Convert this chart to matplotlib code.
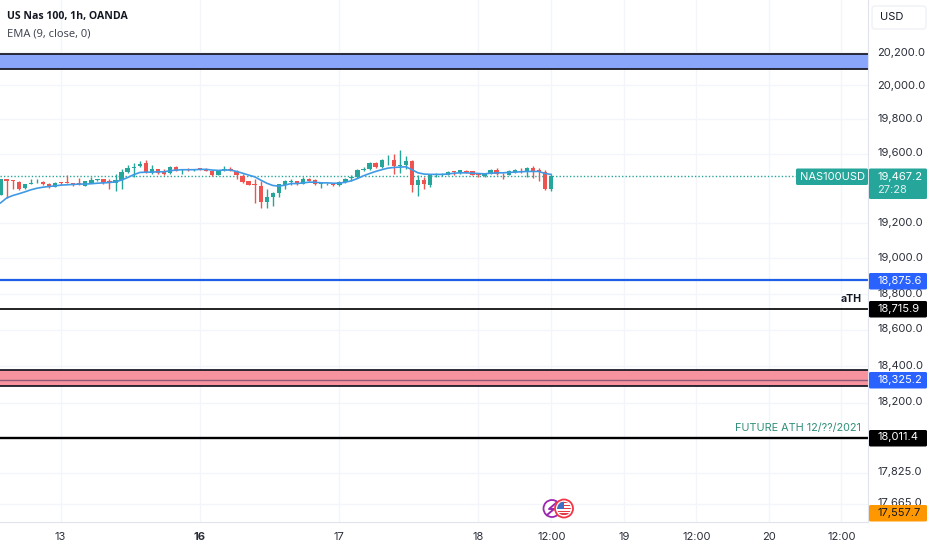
import matplotlib
matplotlib.use("Agg")
import matplotlib.pyplot as plt
from matplotlib.patches import Circle, FancyBboxPatch, Rectangle

opens = [19363, 19450, 19444, 19436, 19398, 19425, 19428, 19436, 19425, 19405, 19436, 19434, 19430, 19428, 19413, 19432,
         19444, 19450, 19440, 19428, 19446, 19492, 19515, 19525, 19546, 19488, 19509, 19496, 19486, 19521, 19504, 19511,
         19504, 19515, 19511, 19500, 19475, 19504, 19511, 19496, 19471, 19438, 19421, 19413, 19322, 19351, 19374, 19417,
         19434, 19438, 19426, 19452, 19444, 19423, 19423, 19426, 19415, 19434, 19459, 19463, 19504, 19508, 19544, 19521,
         19562, 19565, 19525, 19533, 19558, 19415, 19446, 19419, 19479, 19475, 19475, 19498, 19488, 19500, 19498, 19481,
         19469, 19481, 19504, 19484, 19477, 19494, 19500, 19494, 19517, 19502, 19490, 19392]
highs = [19453, 19453, 19444, 19440, 19425, 19453, 19455, 19438, 19428, 19434, 19436, 19473, 19430, 19457, 19442, 19461,
         19455, 19452, 19450, 19484, 19511, 19531, 19546, 19554, 19560, 19536, 19513, 19511, 19527, 19525, 19511, 19515,
         19513, 19517, 19515, 19504, 19504, 19527, 19523, 19502, 19479, 19442, 19450, 19440, 19392, 19376, 19425, 19444,
         19452, 19440, 19465, 19459, 19450, 19430, 19430, 19430, 19440, 19459, 19475, 19513, 19519, 19552, 19550, 19569,
         19591, 19600, 19618, 19585, 19562, 19473, 19465, 19481, 19488, 19488, 19498, 19498, 19504, 19506, 19500, 19488,
         19486, 19508, 19517, 19488, 19502, 19508, 19517, 19521, 19527, 19517, 19504, 19479]
lows = [19363, 19343, 19392, 19388, 19396, 19425, 19428, 19415, 19403, 19405, 19415, 19428, 19413, 19419, 19411, 19428,
        19438, 19425, 19396, 19382, 19396, 19488, 19465, 19519, 19486, 19482, 19484, 19475, 19484, 19496, 19481, 19498,
        19500, 19504, 19496, 19469, 19473, 19498, 19498, 19452, 19428, 19415, 19315, 19286, 19286, 19299, 19347, 19396,
        19417, 19419, 19425, 19440, 19419, 19401, 19417, 19411, 19411, 19432, 19440, 19459, 19498, 19504, 19517, 19515,
        19533, 19481, 19488, 19511, 19376, 19357, 19392, 19405, 19465, 19469, 19473, 19477, 19482, 19488, 19473, 19461,
        19461, 19479, 19475, 19453, 19473, 19488, 19488, 19465, 19459, 19440, 19388, 19386]
closes = [19450, 19438, 19438, 19392, 19425, 19432, 19432, 19421, 19405, 19432, 19430, 19428, 19426, 19425, 19438, 19444,
          19450, 19428, 19436, 19446, 19494, 19517, 19521, 19542, 19490, 19509, 19488, 19484, 19523, 19500, 19511, 19502,
          19511, 19509, 19498, 19475, 19502, 19511, 19502, 19475, 19436, 19419, 19417, 19320, 19351, 19372, 19421, 19438,
          19440, 19423, 19450, 19442, 19423, 19428, 19426, 19417, 19436, 19455, 19463, 19504, 19509, 19544, 19521, 19560,
          19565, 19527, 19535, 19554, 19415, 19444, 19421, 19477, 19482, 19479, 19494, 19492, 19502, 19494, 19477, 19473,
          19482, 19504, 19484, 19479, 19498, 19504, 19492, 19517, 19498, 19494, 19392, 19467]
ema = [19315, 19343, 19357, 19367, 19378, 19390, 19399, 19405, 19409, 19413, 19417, 19419, 19421, 19423, 19423, 19425,
       19428, 19430, 19432, 19436, 19446, 19461, 19477, 19490, 19492, 19492, 19494, 19494, 19500, 19504, 19506, 19506,
       19506, 19508, 19508, 19504, 19502, 19504, 19504, 19496, 19486, 19475, 19465, 19446, 19428, 19415, 19411, 19417,
       19426, 19426, 19430, 19434, 19434, 19430, 19430, 19428, 19428, 19434, 19442, 19455, 19471, 19484, 19496, 19506,
       19515, 19519, 19521, 19523, 19506, 19488, 19481, 19479, 19479, 19479, 19482, 19486, 19488, 19488, 19486, 19484,
       19482, 19486, 19488, 19488, 19490, 19492, 19494, 19496, 19496, 19496, 19484, 19479]

price_ticks = [20200, 20000, 19800, 19600, 19200, 19000, 18800, 18600, 18400, 18200, 17825, 17665]
price_labels = ["20,200.0", "20,000.0", "19,800.0", "19,600.0", "19,200.0", "19,000.0", "18,800.0", "18,600.0",
                "18,400.0", "18,200.0", "17,825.0", "17,665.0"]
time_ticks = [10, 33, 56, 79, 91, 103, 115, 127, 139]
time_labels = ["13", "16", "17", "18", "12:00", "19", "12:00", "20", "12:00"]

blue_zone = (20098, 20188)
pink_zone = (18292, 18380)
last_price = 19467.2
blue_level = 18875.6
ath_level = 18715.9
pink_level = 18325.2
future_level = 18011.4

GREEN = "#26a69a"
RED = "#ef5350"
BLUE_TAG = "#2962ff"
TEXT = "#131722"
UI = "Inter"
FS = 8.0

fig = plt.figure(figsize=(9.32, 5.5), dpi=100)
ax = fig.add_axes([0, 28 / 550, 868 / 932, 522 / 550])
ax.set_yscale("log")
ax.set_xlim(-0.1, 143.4)
ax.set_ylim(17569, 20514)

# grid
ax.minorticks_off()
ax.set_yticks(price_ticks)
ax.set_yticklabels([])
ax.set_xticks(time_ticks)
ax.set_xticklabels([])
ax.yaxis.set_minor_locator(matplotlib.ticker.NullLocator())
ax.grid(True, color="#f3f5fa", lw=1)
ax.set_axisbelow(True)
ax.tick_params(length=0)
for side in ["top", "left"]:
    ax.spines[side].set_visible(False)
for side in ["right", "bottom"]:
    ax.spines[side].set_color("#e0e3eb")

# candles
for i in range(len(opens)):
    col = GREEN if closes[i] >= opens[i] else RED
    ax.plot([i, i], [lows[i], highs[i]], color=col, lw=1, solid_capstyle="butt", zorder=3)
    bottom = min(opens[i], closes[i])
    ax.bar(i, abs(closes[i] - opens[i]), bottom=bottom, width=0.72, color=col, zorder=4)
ax.plot(range(len(ema)), ema, color="#3f9ae5", lw=1.2, zorder=5)

# zones and levels
for zone, fill in [(blue_zone, "#8aa6fb"), (pink_zone, "#f6939e")]:
    ax.axhspan(zone[0], zone[1], color=fill, lw=0, zorder=2)
    ax.axhline(zone[0], color="#1c1c28", lw=1.3, zorder=2)
    ax.axhline(zone[1], color="#1c1c28", lw=1.3, zorder=2)
ax.axhline(pink_level, color="#8c5a78", lw=1, zorder=2)
ax.axhline(blue_level, color="#1f5fe8", lw=1.6, zorder=2)
ax.axhline(ath_level, color="#222222", lw=1.4, zorder=2)
ax.axhline(future_level, color="#000000", lw=1.7, zorder=2)
ax.axhline(last_price, color=GREEN, lw=1, ls=(0, (1, 1.5)), zorder=2)

# overlay in pixels for the price axis, tags and icons
ov = fig.add_axes([0, 0, 1, 1], facecolor="none")
ov.set_xlim(0, 932)
ov.set_ylim(550, 0)
ov.axis("off")

ov.text(7, 16.5, "US Nas 100, 1h, OANDA", fontsize=7.6, family="Open Sans", fontweight="bold", color=TEXT, va="center")
ov.text(7, 33.5, "EMA (9, close, 0)", fontsize=8.0, family="Open Sans", color="#3a3e4a", va="center")

ov.add_patch(FancyBboxPatch((872, 6), 54, 23, boxstyle="round,pad=0,rounding_size=3", fc="white", ec="#f0f1f5", lw=1))
ov.text(880, 17, "USD", fontsize=FS, family=UI, color=TEXT, va="center")

pix_y = {20200: 52.5, 20000: 86, 19800: 119.5, 19600: 153, 19200: 223, 19000: 258, 18800: 294, 18600: 329,
         18400: 366, 18200: 402, 17825: 472, 17665: 503}
for val, lab in zip(price_ticks, price_labels):
    ov.text(877, pix_y[val], lab, fontsize=FS, family=UI, color="#2a2e39", va="center", zorder=3)


def tag(x0, y0, x1, y1, fill):
    ov.add_patch(FancyBboxPatch((x0, y0), x1 - x0, y1 - y0, boxstyle="round,pad=0,rounding_size=1.5",
                                fc=fill, ec="none", zorder=4))


def tag_text(x, y, s, col="white", alpha=1.0):
    ov.text(x, y, s, fontsize=FS, family=UI, color=col, va="center", alpha=alpha, zorder=5)


tag(869, 168.5, 927, 199, GREEN)
tag_text(877, 176.5, "19,467.2")
tag_text(877, 190, "27:28", alpha=0.85)
tag(796, 168.5, 868, 185, GREEN)
tag_text(800, 177, "NAS100USD")
tag(869, 273, 927, 289.5, BLUE_TAG)
tag_text(877, 281, "18,875.6")
tag(869, 301, 927, 317.5, "#000000")
tag_text(877, 309, "18,715.9")
tag(869, 372, 927, 388.5, BLUE_TAG)
tag_text(877, 380, "18,325.2")
tag(869, 430, 927, 446.5, "#000000")
tag_text(877, 437.5, "18,011.4")
tag(869, 505, 927, 521.5, "#ff9800")
tag_text(877, 513, "17,557.7", col=TEXT)

ov.text(862, 299.5, "aTH", fontsize=7.6, family=UI, fontweight="bold", color=TEXT, ha="right", va="center")
ov.text(861, 428, "FUTURE ATH 12/??/2021", fontsize=7.8, family=UI, color="#2f8f78", ha="right", va="center")

tick_px = [60.5, 199.6, 339, 478.5, 551.7, 624, 697, 769, 842]
for x, lab in zip(tick_px, time_labels):
    ov.text(x, 536.5, lab, fontsize=FS, family=UI, color="#2a2e39", ha="center", va="center",
            fontweight="bold" if lab == "16" else "normal")

# event icons
ov.add_patch(Circle((552, 508.5), 8.5, fc="white", ec="#9c27b0", lw=1.3, zorder=5))
ov.plot([556, 549, 554, 547], [503, 509, 509, 515], color="#9c27b0", lw=1.4, zorder=6)
ov.add_patch(Circle((564, 508.5), 9, fc="white", ec="#f23645", lw=1.3, zorder=7))
flag = Circle((564, 508.5), 6.8, transform=ov.transData)
for yy in [501.5, 504.5, 507.5, 510.5, 513]:
    s = Rectangle((556, yy), 16, 1.6, fc="#e53945", ec="none", zorder=8)
    ov.add_patch(s)
    s.set_clip_path(flag)
c = Rectangle((556, 501), 8, 8, fc="#3f6fc4", ec="none", zorder=9)
ov.add_patch(c)
c.set_clip_path(flag)

fig.savefig("out.png", dpi=100)
